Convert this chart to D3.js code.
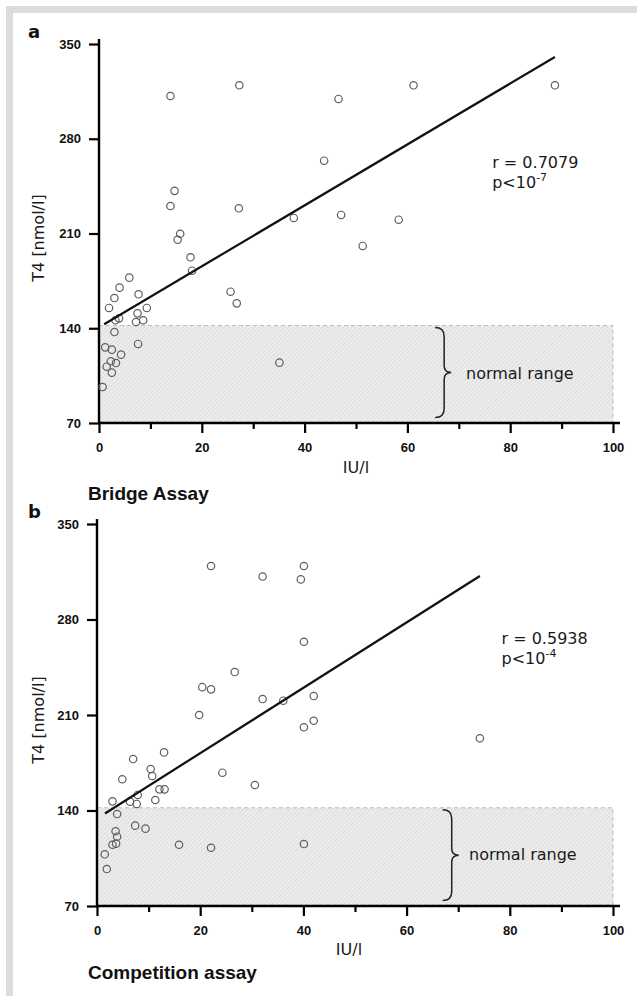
<!DOCTYPE html>
<html>
<head>
<meta charset="utf-8">
<script src="https://cdn.jsdelivr.net/npm/d3@7/dist/d3.min.js"></script>
<style>
  body { margin: 0; background: #fff; }
  svg { display: block; }
</style>
</head>
<body>
<script>
// ---- data ----
var xTicks = [0, 20, 40, 60, 80, 100];
var xMinorTicks = [10, 30, 50, 70, 90];
var yTicks = [70, 140, 210, 280, 350];
var normalRange = [70, 142];

// panel a: Bridge Assay
var bridgeIU = [13.9, 27.3, 14.7, 13.9, 27.2, 37.9, 15.8, 15.3, 46.6, 61.2, 88.7, 43.8, 47.1, 58.3, 51.3,
  17.8, 18.1, 25.6, 26.8, 5.9, 4.0, 3.0, 1.95, 7.7, 9.3, 7.5, 8.6, 7.2, 3.9, 3.2, 3.0, 7.6, 1.2, 2.5,
  4.3, 2.3, 3.3, 1.5, 2.5, 0.7, 35.1];
var bridgeT4 = [311.6, 319.5, 241.5, 230.3, 228.6, 221.5, 209.8, 205.4, 309.4, 319.5, 319.5, 263.8, 223.7, 220.2, 200.8,
  192.4, 182.5, 167.0, 158.4, 177.4, 170.0, 162.3, 155.0, 165.1, 155.0, 151.0, 145.9, 144.6, 147.3, 145.9, 137.2, 128.4, 125.9, 124.2,
  120.5, 115.6, 114.3, 111.6, 107.2, 96.6, 114.6];
var bridgeFitIU = [1, 88.7];
var bridgeFitT4 = [143, 340.4];

// panel b: Competition assay
var compIU = [22.1, 32.1, 40.1, 39.5, 40.1, 26.7, 20.4, 22.1, 32.1, 36.1, 42.0, 19.8, 42.0, 40.1, 74.2,
  30.6, 40.1, 13.0, 7.0, 10.4, 10.7, 4.9, 24.3, 12.1, 13.1, 7.9, 11.3, 6.4, 7.7, 3.0, 3.9, 7.4, 9.4,
  3.6, 3.9, 3.7, 3.0, 15.9, 22.1, 1.5, 1.9];
var compT4 = [319.2, 311.5, 319.2, 309.4, 263.7, 241.5, 230.4, 228.8, 221.7, 220.5, 223.9, 210.0, 205.8, 201.0, 192.9,
  158.7, 115.4, 182.6, 177.7, 170.4, 165.3, 162.9, 167.7, 155.5, 155.5, 151.4, 147.7, 146.5, 144.8, 146.7, 137.4, 128.9, 126.7,
  124.8, 120.8, 115.7, 114.9, 114.9, 112.7, 107.9, 97.1];
var compFitIU = [1.55, 74.2];
var compFitT4 = [137.8, 311.9];

var W = 637, H = 996;

var svg = d3.select('body').append('svg')
  .attr('width', W).attr('height', H);

// grey frame
svg.append('rect').attr('x', 6).attr('y', 6).attr('width', W).attr('height', H).attr('fill', '#dcdcdc');
svg.append('rect').attr('x', 13).attr('y', 13).attr('width', W).attr('height', H).attr('fill', '#fff');

// hatch for normal range
var defs = svg.append('defs');
var pat = defs.append('pattern').attr('id', 'hatch')
  .attr('patternUnits', 'userSpaceOnUse')
  .attr('width', 3).attr('height', 3)
  .attr('patternTransform', 'rotate(45)');
pat.append('rect').attr('width', 3).attr('height', 3).attr('fill', '#ededed');
pat.append('line').attr('x1', 0).attr('y1', 0).attr('x2', 0).attr('y2', 3)
  .attr('stroke', '#d2d2d2').attr('stroke-width', 1.2);

var sansFont = '"DejaVu Sans", Verdana, sans-serif';
var tickFont = '"Liberation Sans", Arial, sans-serif';

function drawPanel(cfg) {
  var x = d3.scaleLinear().domain([0, 100]).range([cfg.x0, cfg.x1]);
  var y = d3.scaleLinear().domain([70, 350]).range([cfg.yb, cfg.yt]);
  var g = svg.append('g');

  // normal range box
  g.append('rect')
    .attr('x', x(0)).attr('y', y(normalRange[1]))
    .attr('width', x(100) - x(0))
    .attr('height', y(normalRange[0]) - y(normalRange[1]) - 1)
    .attr('fill', 'url(#hatch)')
    .attr('stroke', '#bdbdbd').attr('stroke-width', 1)
    .attr('stroke-dasharray', '4,3');

  // axes
  var xAxis = g.append('g').attr('transform', 'translate(0,' + cfg.yb + ')')
    .call(d3.axisBottom(x).tickValues(xTicks).tickSize(10).tickPadding(10).tickSizeOuter(0));
  g.append('g').attr('transform', 'translate(0,' + cfg.yb + ')')
    .call(d3.axisBottom(x).tickValues(xMinorTicks).tickSize(6).tickFormat('').tickSizeOuter(0))
    .select('.domain').remove();
  var yAxis = g.append('g').attr('transform', 'translate(' + cfg.x0 + ',0)')
    .call(d3.axisLeft(y).tickValues(yTicks).tickSize(10).tickPadding(8).tickSizeOuter(0));

  g.selectAll('.domain').remove();
  g.selectAll('.tick line').attr('stroke', '#000').attr('stroke-width', 2.2);
  g.selectAll('.tick text')
    .attr('fill', '#111')
    .style('font-family', tickFont)
    .style('font-size', '13px')
    .style('font-weight', 'bold');
  g.append('line')
    .attr('x1', x(0) - 1).attr('x2', x(100) + 7)
    .attr('y1', cfg.yb).attr('y2', cfg.yb)
    .attr('stroke', '#000').attr('stroke-width', 2.4);
  g.append('line')
    .attr('x1', cfg.x0).attr('x2', cfg.x0)
    .attr('y1', cfg.yb + 1).attr('y2', cfg.yt - 5)
    .attr('stroke', '#000').attr('stroke-width', 2.4);

  // points
  g.selectAll('circle.pt').data(d3.range(cfg.xs.length)).enter().append('circle')
    .attr('class', 'pt')
    .attr('cx', function (i) { return x(cfg.xs[i]); })
    .attr('cy', function (i) { return y(cfg.ys[i]); })
    .attr('r', 3.7)
    .attr('fill', 'none')
    .attr('stroke', '#5e5e5e')
    .attr('stroke-width', 1.2);

  // regression line
  g.append('line')
    .attr('x1', x(cfg.fitX[0])).attr('y1', y(cfg.fitY[0]))
    .attr('x2', x(cfg.fitX[1])).attr('y2', y(cfg.fitY[1]))
    .attr('stroke', '#111').attr('stroke-width', 2.2);

  // brace
  var bx = x(cfg.braceX), by0 = y(140.5), by1 = y(74), bm = (by0 + by1) / 2;
  var s = bx + 9, t = bx + 16;
  var bp = 'M' + bx + ',' + by0 +
    ' Q' + s + ',' + by0 + ' ' + s + ',' + (by0 + 9) +
    ' L' + s + ',' + (bm - 7) +
    ' Q' + s + ',' + bm + ' ' + t + ',' + bm +
    ' Q' + s + ',' + bm + ' ' + s + ',' + (bm + 7) +
    ' L' + s + ',' + (by1 - 9) +
    ' Q' + s + ',' + by1 + ' ' + bx + ',' + by1;
  g.append('path').attr('d', bp).attr('fill', 'none')
    .attr('stroke', '#222').attr('stroke-width', 1.5);

  g.append('text')
    .attr('x', x(cfg.nrX)).attr('y', y(cfg.nrY))
    .style('font-family', sansFont).style('font-size', '16px')
    .attr('fill', '#1a1a1a')
    .text('normal range');

  // stats
  g.append('text')
    .attr('x', x(cfg.statX)).attr('y', y(cfg.statY))
    .style('font-family', sansFont).style('font-size', '16px')
    .attr('fill', '#1a1a1a')
    .text(cfg.r);
  var pt = g.append('text')
    .attr('x', x(cfg.statX)).attr('y', y(cfg.statY) + 20)
    .style('font-family', sansFont).style('font-size', '16px')
    .attr('fill', '#1a1a1a');
  pt.append('tspan').text('p<10');
  pt.append('tspan').attr('dy', -7).style('font-size', '11px').text(cfg.pexp);

  // axis labels
  g.append('text')
    .attr('transform', 'translate(44,' + cfg.ylabY + ') rotate(-90)')
    .attr('text-anchor', 'middle')
    .style('font-family', sansFont).style('font-size', '16px')
    .attr('fill', '#1a1a1a')
    .text('T4 [nmol/l]');
  g.append('text')
    .attr('x', cfg.xlabX).attr('y', cfg.xlabY)
    .attr('text-anchor', 'middle')
    .style('font-family', sansFont).style('font-size', '16px')
    .attr('fill', '#1a1a1a')
    .text('IU/l');

  // panel letter and title
  g.append('text')
    .attr('x', 28).attr('y', cfg.letterY)
    .style('font-family', sansFont).style('font-size', '18px').style('font-weight', 'bold')
    .attr('fill', '#111')
    .text(cfg.letter);
  g.append('text')
    .attr('x', 88).attr('y', cfg.titleY)
    .style('font-family', tickFont).style('font-size', '19px').style('font-weight', 'bold')
    .attr('fill', '#111')
    .text(cfg.title);
}

drawPanel({
  xs: bridgeIU, ys: bridgeT4, fitX: bridgeFitIU, fitY: bridgeFitT4,
  x0: 99, x1: 613, yt: 44, yb: 423,
  braceX: 65.4, nrX: 71.4, nrY: 102.5,
  statX: 76.5, statY: 258.4, r: 'r = 0.7079', pexp: '-7',
  ylabY: 238, xlabX: 356, xlabY: 473,
  letter: 'a', letterY: 38, title: 'Bridge Assay', titleY: 500
});

drawPanel({
  xs: compIU, ys: compT4, fitX: compFitIU, fitY: compFitT4,
  x0: 97, x1: 613, yt: 524, yb: 906,
  braceX: 67.0, nrX: 72.1, nrY: 103.7,
  statX: 78.4, statY: 262, r: 'r = 0.5938', pexp: '-4',
  ylabY: 720, xlabX: 349, xlabY: 955,
  letter: 'b', letterY: 518, title: 'Competition assay', titleY: 979
});
</script>
</body>
</html>
